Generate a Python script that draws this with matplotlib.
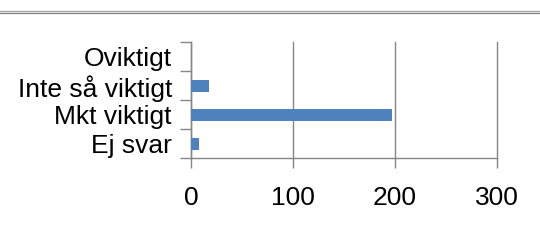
import matplotlib
matplotlib.use("Agg")
import matplotlib.pyplot as plt
from matplotlib.lines import Line2D
import numpy as np

# svarsalternativ och antal
kategorier = ["Ej svar", "Mkt viktigt", "Inte så viktigt", "Oviktigt"]
antal = [8, 197, 17, 0]
xticks = [0, 100, 200, 300]

plt.rcParams['font.family'] = ['Liberation Sans', 'DejaVu Sans']

fig = plt.figure(figsize=(5.4, 2.47), dpi=100)
ax = fig.add_axes([0.3543, 0.359, 0.9198 - 0.3543, 0.8287 - 0.359])

pos = np.arange(len(kategorier))
ax.barh(pos, antal, height=0.4, color="#4F81BD", zorder=3)

ax.set_xlim(0, 300)
ax.set_ylim(-0.5, len(kategorier) - 0.5)
ax.set_xticks(xticks)
ax.set_xticklabels([str(v) for v in xticks])
ax.xaxis.grid(True, color="#868686", linewidth=1)
for gl in ax.get_xgridlines():
    gl.set_clip_on(False)
ax.set_axisbelow(True)

# kategori-streck mellan grupperna, etiketter i mitten
ax.set_yticks(np.arange(-0.5, len(kategorier), 1.0))
ax.set_yticklabels([])
ax.set_yticks(pos, minor=True)
ax.set_yticklabels(kategorier, minor=True)
ax.tick_params(axis="y", which="minor", length=0, pad=14, labelsize=19)
ax.tick_params(axis="y", which="major", length=8, width=1, color="#868686")
ax.tick_params(axis="x", length=7, width=1, color="#868686", pad=13, labelsize=19)

for s in ["top", "right"]:
    ax.spines[s].set_visible(False)
for s in ["left", "bottom"]:
    ax.spines[s].set_color("#868686")
    ax.spines[s].set_linewidth(1)

# linje överst
fig.add_artist(Line2D([0, 1], [1 - 11.5 / 247, 1 - 11.5 / 247], color="#a0a0a0", linewidth=0.9))
fig.add_artist(Line2D([0, 1], [1 - 12.8 / 247, 1 - 12.8 / 247], color="#7f7f7f", linewidth=0.9))

fig.savefig("out.png", dpi=100)
